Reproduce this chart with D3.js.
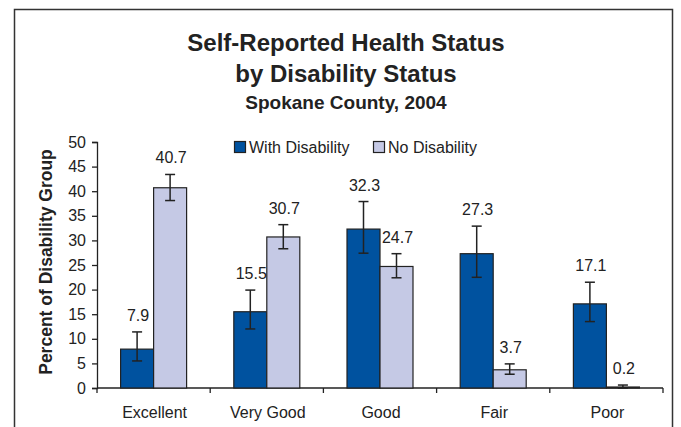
<!DOCTYPE html>
<html>
<head>
<meta charset="utf-8">
<script src="https://cdn.jsdelivr.net/npm/d3@7"></script>
<style>
  html, body { margin: 0; padding: 0; background: #fff; }
  svg { display: block; font-family: "Liberation Sans", Arial, sans-serif; }
</style>
</head>
<body>
<svg id="chart" width="681" height="427"></svg>
<script>
const categories = ["Excellent", "Very Good", "Good", "Fair", "Poor"];
const seriesNames = ["With Disability", "No Disability"];
const withDisability = [7.9, 15.5, 32.3, 27.3, 17.1];
const noDisability = [40.7, 30.7, 24.7, 3.7, 0.2];
const withLow = [5.5, 12.0, 27.4, 22.5, 13.5];
const withHigh = [11.4, 19.9, 37.9, 32.9, 21.5];
const noLow = [38.1, 28.3, 22.4, 2.8, 0.0];
const noHigh = [43.4, 33.2, 27.3, 4.9, 0.6];
const yTicks = [0, 5, 10, 15, 20, 25, 30, 35, 40, 45, 50];
const colors = ["#00529F", "#C5C9E5"];

const svg = d3.select("#chart");

// outer frame
svg.append("rect").attr("x", 14.5).attr("y", 9.5).attr("width", 658).attr("height", 440)
  .attr("fill", "none").attr("stroke", "#333").attr("stroke-width", 1.5);

// titles
svg.append("text").attr("x", 346).attr("y", 51).attr("text-anchor", "middle")
  .attr("font-size", 24).attr("font-weight", "bold").attr("fill", "#222")
  .text("Self-Reported Health Status");
svg.append("text").attr("x", 346).attr("y", 82).attr("text-anchor", "middle")
  .attr("font-size", 24).attr("font-weight", "bold").attr("fill", "#222")
  .text("by Disability Status");
svg.append("text").attr("x", 346).attr("y", 109).attr("text-anchor", "middle")
  .attr("font-size", 19).attr("font-weight", "bold").attr("fill", "#222")
  .text("Spokane County, 2004");

const x0 = d3.scaleBand().domain(categories).range([97, 663]).paddingInner(0).paddingOuter(0);
const x1 = d3.scaleBand().domain(seriesNames).range([0, 66]);
const pairOffset = (x0.bandwidth() - 66) / 2;
const y = d3.scaleLinear().domain([0, 50]).range([388, 142]);

const data = categories.map((c, i) => ({
  cat: c,
  vals: [
    { s: seriesNames[0], v: withDisability[i], lo: withLow[i], hi: withHigh[i], ci: 0 },
    { s: seriesNames[1], v: noDisability[i], lo: noLow[i], hi: noHigh[i], ci: 1 }
  ]
}));

// y axis
const yAxis = d3.axisLeft(y).tickValues(yTicks).tickSize(5).tickPadding(6).tickFormat(d3.format("d"));
const gy = svg.append("g").attr("transform", "translate(97,0)").call(yAxis);
gy.select(".domain").attr("stroke", "#222").attr("stroke-width", 1.3);
gy.selectAll(".tick line").attr("stroke", "#222").attr("stroke-width", 1.3);
gy.selectAll(".tick text").attr("font-size", 16).attr("fill", "#222")
  .attr("font-family", "Liberation Sans, Arial, sans-serif");

// x axis: ticks at band boundaries
const gx = svg.append("g").attr("transform", "translate(0,388)");
gx.append("line").attr("x1", 97).attr("x2", 663).attr("stroke", "#222").attr("stroke-width", 1.3);
const bounds = categories.map(c => x0(c)).concat([x0(categories[categories.length - 1]) + x0.bandwidth()]);
gx.selectAll("line.tk").data(bounds).enter().append("line").attr("class", "tk")
  .attr("x1", d => d).attr("x2", d => d).attr("y1", 0).attr("y2", 5)
  .attr("stroke", "#222").attr("stroke-width", 1.3);
gx.selectAll("text").data(categories).enter().append("text")
  .attr("x", d => x0(d) + x0.bandwidth() / 2 + 1).attr("y", 30)
  .attr("text-anchor", "middle").attr("font-size", 16).attr("fill", "#222")
  .text(d => d);

// y axis title
svg.append("text").attr("transform", "translate(52,262) rotate(-90)")
  .attr("text-anchor", "middle").attr("font-size", 17.5).attr("font-weight", "bold").attr("fill", "#222")
  .text("Percent of Disability Group");

// bars
const groups = svg.append("g").selectAll("g").data(data).enter().append("g")
  .attr("transform", d => `translate(${x0(d.cat) + pairOffset},0)`);

groups.selectAll("rect").data(d => d.vals).enter().append("rect")
  .attr("x", d => x1(d.s)).attr("y", d => y(d.v))
  .attr("width", x1.bandwidth()).attr("height", d => y(0) - y(d.v))
  .attr("fill", d => colors[d.ci]).attr("stroke", "#222").attr("stroke-width", 1.2);

// error bars
const eb = groups.selectAll("g.err").data(d => d.vals).enter().append("g").attr("class", "err");
eb.append("line")
  .attr("x1", d => x1(d.s) + x1.bandwidth() / 2).attr("x2", d => x1(d.s) + x1.bandwidth() / 2)
  .attr("y1", d => y(d.lo)).attr("y2", d => y(d.hi))
  .attr("stroke", "#222").attr("stroke-width", 1.5);
eb.append("line")
  .attr("x1", d => x1(d.s) + x1.bandwidth() / 2 - 5).attr("x2", d => x1(d.s) + x1.bandwidth() / 2 + 5)
  .attr("y1", d => y(d.hi)).attr("y2", d => y(d.hi))
  .attr("stroke", "#222").attr("stroke-width", 1.5);
eb.append("line")
  .attr("x1", d => x1(d.s) + x1.bandwidth() / 2 - 5).attr("x2", d => x1(d.s) + x1.bandwidth() / 2 + 5)
  .attr("y1", d => y(d.lo)).attr("y2", d => y(d.lo))
  .attr("stroke", "#222").attr("stroke-width", 1.5);

// value labels
groups.selectAll("text.val").data(d => d.vals).enter().append("text").attr("class", "val")
  .attr("x", d => x1(d.s) + x1.bandwidth() / 2 + 1).attr("y", d => y(d.hi) - 11)
  .attr("text-anchor", "middle").attr("font-size", 16).attr("fill", "#222")
  .text(d => d3.format(".1f")(d.v));

// legend
const legend = svg.append("g");
const legX = [234, 373];
seriesNames.forEach((s, i) => {
  legend.append("rect").attr("x", legX[i] + 0.5).attr("y", 141.5).attr("width", 11).attr("height", 11)
    .attr("fill", colors[i]).attr("stroke", "#222").attr("stroke-width", 1.2);
  legend.append("text").attr("x", legX[i] + 15).attr("y", 153)
    .attr("font-size", 16).attr("fill", "#222").text(s);
});
</script>
</body>
</html>
